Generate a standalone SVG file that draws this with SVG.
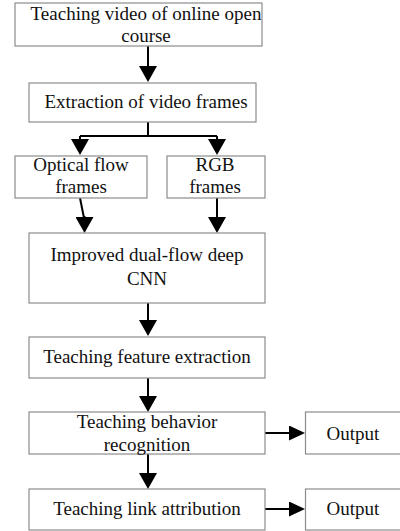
<svg xmlns="http://www.w3.org/2000/svg" width="400" height="531" viewBox="0 0 400 531">
  <defs>
    <marker id="head" markerUnits="userSpaceOnUse" markerWidth="16" markerHeight="18" refX="14" refY="9" orient="auto">
      <path d="M0,0 L16,9 L0,18 z" fill="#000"/>
    </marker>
    <marker id="headSmall" markerUnits="userSpaceOnUse" markerWidth="16" markerHeight="15" refX="14" refY="7.5" orient="auto">
      <path d="M0,0 L16,7.5 L0,15 z" fill="#000"/>
    </marker>
    <style>
      .box { fill: #fff; stroke: #8c8c8c; stroke-width: 1.2; }
      .lbl { font-family: "Liberation Serif", "Times New Roman", serif; font-size: 19px; fill: #111; text-anchor: middle; }
      .wire { fill: none; stroke: #000; stroke-width: 2; }
      .down { marker-end: url(#head); }
      .right { marker-end: url(#headSmall); }
    </style>
  </defs>

  <!-- connectors -->
  <g id="connectors">
    <path class="wire down" d="M148,46 V80"/>
    <path class="wire" d="M148,122 V136 M80,136 H217"/>
    <path class="wire down" d="M80,136 V153"/>
    <path class="wire down" d="M217,136 V153"/>
    <path class="wire" d="M80,198 L84,218"/>
    <path class="wire down" d="M84.5,216 V231"/>
    <path class="wire down" d="M217,198 V231"/>
    <path class="wire down" d="M148,303 V334"/>
    <path class="wire down" d="M148,378 V410"/>
    <path class="wire down" d="M148,454 V487"/>
    <path class="wire right" d="M265,433 H303"/>
    <path class="wire right" d="M265,509 H303"/>
  </g>

  <!-- nodes -->
  <g id="source">
    <rect class="box" x="15" y="3" width="247" height="43"/>
    <text class="lbl" x="146" y="20">Teaching video of online open</text>
    <text class="lbl" x="146" y="42">course</text>
  </g>
  <g id="frames">
    <rect class="box" x="29" y="83" width="227" height="39"/>
    <text class="lbl" x="146" y="107.5">Extraction of video frames</text>
  </g>
  <g id="optical">
    <rect class="box" x="15" y="156" width="132" height="42"/>
    <text class="lbl" x="81" y="171">Optical flow</text>
    <text class="lbl" x="81" y="193">frames</text>
  </g>
  <g id="rgb">
    <rect class="box" x="167" y="156" width="98" height="42"/>
    <text class="lbl" x="215" y="171">RGB</text>
    <text class="lbl" x="215" y="193">frames</text>
  </g>
  <g id="cnn">
    <rect class="box" x="29" y="233" width="236" height="70"/>
    <text class="lbl" x="147" y="261">Improved dual-flow deep</text>
    <text class="lbl" x="147" y="285">CNN</text>
  </g>
  <g id="feature">
    <rect class="box" x="29" y="337" width="236" height="41"/>
    <text class="lbl" x="147" y="363">Teaching feature extraction</text>
  </g>
  <g id="behavior">
    <rect class="box" x="29" y="412" width="236" height="42"/>
    <text class="lbl" x="147" y="428">Teaching behavior</text>
    <text class="lbl" x="147" y="451">recognition</text>
  </g>
  <g id="output1">
    <rect class="box" x="305.5" y="412" width="96" height="42"/>
    <text class="lbl" x="353" y="439.5">Output</text>
  </g>
  <g id="link">
    <rect class="box" x="29" y="489" width="236" height="41"/>
    <text class="lbl" x="147" y="515">Teaching link attribution</text>
  </g>
  <g id="output2">
    <rect class="box" x="305.5" y="489" width="96" height="41"/>
    <text class="lbl" x="353" y="515">Output</text>
  </g>
</svg>
